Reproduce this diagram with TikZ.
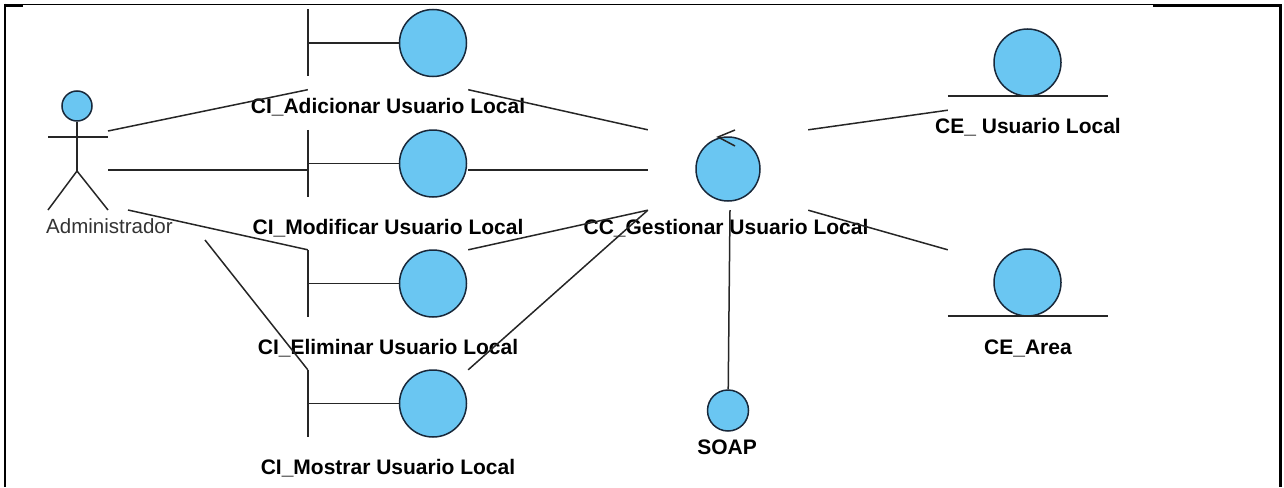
\documentclass[tikz,border=0pt]{standalone}
\usepackage{fontspec}
\setmainfont{Liberation Sans}
\definecolor{objfill}{RGB}{106,198,242}
\definecolor{objline}{RGB}{24,40,58}
\begin{document}
\begin{tikzpicture}[x=1pt,y=-1pt,
  conn/.style={line width=1.5pt, draw=black!85},
  frameline/.style={draw=black},
  obj/.style={circle, draw=objline, fill=objfill, line width=1.5pt, inner sep=0pt, minimum size=#1},
  hitbox/.style={rectangle, minimum width=160pt, minimum height=80pt, inner sep=0pt},
  lbl/.style={font=\fontsize{21}{25}\selectfont\bfseries, anchor=base, inner sep=0pt},
  actlbl/.style={font=\fontsize{20.5}{24}\selectfont, text=black!80, anchor=base west, inner sep=0pt},
]
\useasboundingbox (0,0) rectangle (1284,487);

% page frame
\draw[frameline, line width=1.8pt] (4,4.6) -- (1153,4.6);
\draw[frameline, line width=2.6pt] (4,5.3) -- (23,5.3);
\draw[frameline, line width=2.6pt] (1153,5.4) -- (1281.7,5.4);
\draw[frameline, line width=2.4pt] (5,3.6) -- (5,487);
\draw[frameline, line width=2.8pt] (1280.5,4.2) -- (1280.5,487);

% actor
\node[obj=30pt] (adm-h) at (77,106) {};
\coordinate (adm-hip) at (77,171);
\coordinate (adm-la) at (48,137);
\coordinate (adm-ra) at (108,137);
\coordinate (adm-lf) at (48,210);
\coordinate (adm-rf) at (108,210);
\draw[conn] (adm-h.south) -- (adm-hip);
\draw[conn] (adm-la) -- (adm-ra);
\draw[conn] (adm-lf) -- (adm-hip) -- (adm-rf);
\node[actlbl] (adm-l) at (46,233) {Administrador};
\coordinate (adm-p1) at (108,131);
\coordinate (adm-p2) at (108,170);
\coordinate (adm-p3) at (128,210);
\coordinate (adm-p4) at (205,240);

% boundary objects
\foreach \n/\t/\txt in {adic/9.5/CI\_Adicionar Usuario Local,
                        modi/130/CI\_Modificar Usuario Local,
                        elim/250/CI\_Eliminar Usuario Local,
                        most/370/CI\_Mostrar Usuario Local} {
  \node[hitbox] (\n) at (388,\t+40) {};
  \node[obj=67pt] (\n-c) at (433,\t+33.5) {};
  \draw[conn] (\n.north west) -- ++(0,67);
  \draw[conn] (\n.north west |- \n-c) -- (\n-c.west);
  \node[lbl] (\n-l) at (388,\t+104) {\txt};
}

% control object with its direction mark
\node[hitbox] (cc) at (728,170) {};
\node[obj=64pt] (cc-c) at (728,169) {};
\draw[conn] ([shift={(7,-39)}]cc-c.center) -- ([shift={(-10,-32)}]cc-c.center) -- ([shift={(7,-23)}]cc-c.center);
\node[lbl] (cc-l) at (726,234) {CC\_Gestionar Usuario Local};

% SOAP
\node[obj=41pt] (soap) at (728,410.5) {};
\node[lbl] (soap-l) at (727,454) {SOAP};

% entity objects
\node[hitbox] (ceu) at (1028,70) {};
\node[obj=67pt] (ceu-c) at (1027.5,62.5) {};
\draw[conn] ([yshift=14pt]ceu.south west) -- ([yshift=14pt]ceu.south east);
\node[lbl] (ceu-l) at (1028,133) {CE\_ Usuario Local};

\node[hitbox] (cea) at (1028,290) {};
\node[obj=67pt] (cea-c) at (1027.5,282.5) {};
\draw[conn] ([yshift=14pt]cea.south west) -- ([yshift=14pt]cea.south east);
\node[lbl] (cea-l) at (1028,354) {CE\_Area};

% associations
\draw[conn] (adm-p1) -- (adic.south west);
\draw[conn] (adm-p2) -- (modi.west);
\draw[conn] (adm-p3) -- (elim.north west);
\draw[conn] (adm-p4) -- (most.north west);
\draw[conn] (adic.south east) -- (cc.north west);
\draw[conn] (modi.east) -- (cc.west);
\draw[conn] (elim.north east) -- (cc.south west);
\draw[conn] (most.north east) -- (cc.south west);
\draw[conn] (cc.north east) -- (ceu.south west);
\draw[conn] (cc.south east) -- (cea.north west);
\draw[conn] ([xshift=2pt]cc.south) -- (soap);
\end{tikzpicture}
\end{document}
